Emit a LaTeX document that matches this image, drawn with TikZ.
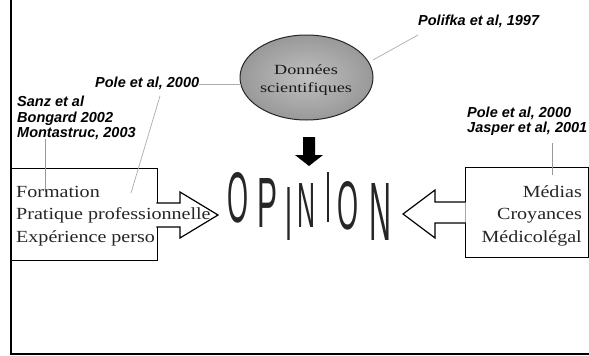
\documentclass[tikz,border=0pt]{standalone}
\usepackage{fontspec}
\usepackage{graphicx}
\setmainfont{Liberation Serif}
\newfontfamily\citefont{Liberation Sans}
\usetikzlibrary{shapes.geometric}
\begin{document}
\begin{tikzpicture}[x=1pt,y=-1pt,
  cite/.style={font=\citefont\bfseries\itshape\fontsize{14.5}{15}\selectfont, inner sep=0pt, anchor=base west},
  boxtxt/.style={font=\fontsize{17}{20}\selectfont, inner sep=0pt, text=black!85},
  leader/.style={draw=gray!65, line width=0.7pt},
  frame/.style={draw=black, line width=1.2pt, inner sep=0pt},
  blockarrow/.style={draw=black, line width=1.2pt, fill=white, line join=miter},
  letter/.style={inner sep=0pt, text=black!85, font=\citefont}
]
\useasboundingbox (0,0) rectangle (589,356);
\fill[white] (0,0) rectangle (589,356);

% outer border (left and bottom)
\draw[line width=2pt] (11,0) -- (11,354) -- (589,354);

% ellipse
\node[ellipse, draw=black!85, line width=1pt, minimum width=133pt, minimum height=85pt,
      inner color=gray!50, outer color=gray!80] (ell) at (306.5,77.5) {};
\node[inner sep=0pt, font=\fontsize{14}{18}\selectfont, text=black!90, align=center] (elltxt) at (306,80)
  {\scalebox{1.3}[1]{Données}\\\scalebox{1.3}[1]{scientifiques}};

% citation labels
\node[cite] (polifka) at (418,25) {Polifka et al, 1997};
\node[cite] (pole1) at (95,87.5) {Pole et al, 2000};
\node[cite] (sanz) at (17,106.5) {Sanz et al};
\node[cite] (bongard) at (17,122) {Bongard 2002};
\node[cite] (monta) at (17,137.5) {Montastruc, 2003};
\node[cite] (pole2) at (467,117) {Pole et al, 2000};
\node[cite] (jasper) at (467,132) {Jasper et al, 2001};

% boxes
\node[frame, minimum width=146pt, minimum height=92pt, anchor=north west] (lbox) at (11,168) {};
\node[frame, minimum width=123pt, minimum height=90pt, anchor=north west] (rbox) at (465,167) {};

% leader lines
\coordinate (polifkaend) at (418,35);
\draw[leader] (polifkaend) -- (373,60);
\draw[leader] (pole1.east |- 0,84.5) -- (241,84.5);
\coordinate (pole1foot) at (160,96);
\coordinate (lboxin) at (131,193);
\draw[leader] (pole1foot) -- (lboxin);
\coordinate (sanzfoot) at (45,139);
\coordinate (sanzin) at (45,192);
\draw[leader, draw=gray!80] (sanzfoot) -- (sanzin);
\coordinate (jasperfoot) at (552,143);
\coordinate (rboxin) at (552,175);
\draw[leader, draw=gray!80] (jasperfoot) -- (rboxin);

% block arrows
\draw[blockarrow] (156.4,203) -- (180,203) -- (180,192) -- (218,215) -- (180,238) -- (180,227) -- (156.4,227);
\draw[blockarrow] (465.6,202) -- (435,202) -- (435,190) -- (403,214) -- (435,238) -- (435,223) -- (465.6,223);

% down arrow
\fill[black] (303,137) -- (315,137) -- (315,155) -- (323,155) -- (309,166) -- (295,155) -- (303,155) -- cycle;

% box texts
\node[boxtxt, anchor=base west] (formation) at (16,197) {\scalebox{1.18}[1]{Formation}};
\node[boxtxt, anchor=base west] (pratique) at (16,219.5) {\scalebox{1.18}[1]{Pratique professionnelle}};
\node[boxtxt, anchor=base west] (experience) at (16,242) {\scalebox{1.18}[1]{Expérience perso}};
\node[boxtxt, anchor=base east] (medias) at (582,197) {\scalebox{1.18}[1]{Médias}};
\node[boxtxt, anchor=base east] (croyances) at (582,219.5) {\scalebox{1.18}[1]{Croyances}};
\node[boxtxt, anchor=base east] (medico) at (582,242) {\scalebox{1.18}[1]{Médicolégal}};

% OPINION
\node[letter] (l1) at (237.5,198) {\resizebox{21pt}{50pt}{O}};
\node[letter] (l2) at (267,202.5) {\resizebox{20pt}{49pt}{P}};
\node[letter] (l3) at (289,213.5) {\resizebox{7pt}{53pt}{I}};
\node[letter] (l4) at (306,205) {\resizebox{18pt}{44pt}{N}};
\node[letter] (l5) at (328.5,197) {\resizebox{6pt}{50pt}{I}};
\node[letter] (l6) at (347.5,206) {\resizebox{21pt}{48pt}{O}};
\node[letter] (l7) at (380,211.5) {\resizebox{22pt}{57pt}{N}};
\end{tikzpicture}
\end{document}
